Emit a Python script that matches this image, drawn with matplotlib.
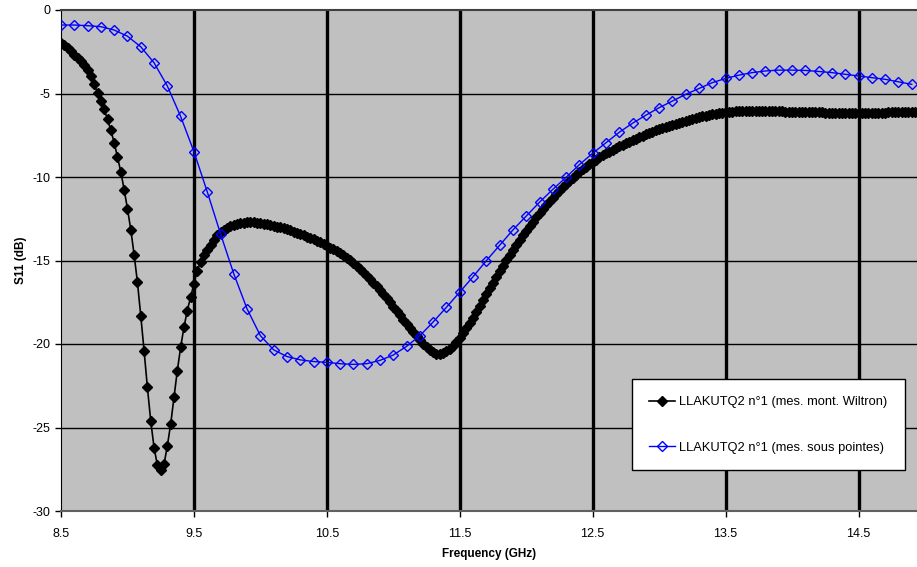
import numpy as np
import matplotlib
matplotlib.use("Agg")
import matplotlib.pyplot as plt

plt.rcParams['font.family'] = ['Liberation Sans', 'DejaVu Sans']

# mesure montage Wiltron, pas de 0.025 GHz a partir de 8.5 GHz
wiltron_start = 8.5
wiltron_step = 0.025
wiltron_s11 = [
    -1.96, -2.12, -2.30, -2.48, -2.68, -2.88, -3.08, -3.30,   # 8.5
    -3.60, -3.98, -4.45, -4.97, -5.45, -5.95, -6.55, -7.20,   # 8.7
    -7.95, -8.80, -9.70, -10.75, -11.90, -13.15, -14.65, -16.30,  # 8.9
    -18.30, -20.40, -22.60, -24.60, -26.20, -27.25, -27.55, -27.20,  # 9.1
    -26.10, -24.80, -23.20, -21.60, -20.20, -19.00, -18.00, -17.20,  # 9.3
    -16.40, -15.60, -15.10, -14.70, -14.40, -14.10, -13.80, -13.50,  # 9.5
    -13.30, -13.15, -13.03, -12.94, -12.86, -12.80, -12.76, -12.73,  # 9.7
    -12.72, -12.71, -12.72, -12.73, -12.76, -12.79, -12.83, -12.87,  # 9.9
    -12.92, -12.97, -13.02, -13.08, -13.14, -13.20, -13.27, -13.34,  # 10.1
    -13.41, -13.49, -13.57, -13.65, -13.74, -13.83, -13.92, -14.02,  # 10.3
    -14.12, -14.23, -14.34, -14.45, -14.57, -14.70, -14.84, -14.99,  # 10.5
    -15.15, -15.32, -15.50, -15.70, -15.90, -16.10, -16.32, -16.54,  # 10.7
    -16.77, -17.00, -17.24, -17.50, -17.76, -18.02, -18.28, -18.54,  # 10.9
    -18.80, -19.05, -19.30, -19.55, -19.78, -20.00, -20.20, -20.37,  # 11.1
    -20.50, -20.57, -20.58, -20.54, -20.44, -20.30, -20.12, -19.90,  # 11.3
    -19.65, -19.37, -19.07, -18.75, -18.42, -18.08, -17.73, -17.38,  # 11.5
    -17.02, -16.67, -16.32, -15.97, -15.63, -15.30, -14.98, -14.67,  # 11.7
    -14.37, -14.07, -13.78, -13.50, -13.22, -12.95, -12.68, -12.42,  # 11.9
    -12.17, -11.93, -11.70, -11.47, -11.25, -11.03, -10.82, -10.61,  # 12.1
    -10.40, -10.22, -10.04, -9.86, -9.69, -9.53, -9.38, -9.23,  # 12.3
    -9.09, -8.96, -8.83, -8.71, -8.59, -8.48, -8.37, -8.27,  # 12.5
    -8.17, -8.07, -7.97, -7.88, -7.79, -7.70, -7.61, -7.53,  # 12.7
    -7.45, -7.37, -7.29, -7.21, -7.13, -7.06, -6.99, -6.92,  # 12.9
    -6.86, -6.80, -6.74, -6.68, -6.62, -6.57, -6.52, -6.47,  # 13.1
    -6.42, -6.37, -6.33, -6.29, -6.25, -6.22, -6.19, -6.16,  # 13.3
    -6.13, -6.11, -6.09, -6.07, -6.06, -6.05, -6.04, -6.03,  # 13.5
    -6.03, -6.03, -6.03, -6.03, -6.04, -6.05, -6.05, -6.06,  # 13.7
    -6.07, -6.07, -6.08, -6.08, -6.09, -6.09, -6.10, -6.10,  # 13.9
    -6.11, -6.11, -6.12, -6.12, -6.13, -6.13, -6.14, -6.14,  # 14.1
    -6.15, -6.15, -6.15, -6.16, -6.16, -6.16, -6.16, -6.16,  # 14.3
    -6.16, -6.16, -6.16, -6.16, -6.15, -6.15, -6.15, -6.14,  # 14.5
    -6.14, -6.13, -6.13, -6.12, -6.12, -6.11, -6.11, -6.10,  # 14.7
    -6.10, -6.09,  # 14.9
]

# mesure sous pointes, pas de 0.1 GHz
pointes_start = 8.5
pointes_step = 0.1
pointes_s11 = [
    -0.90, -0.90, -0.94, -1.00, -1.20, -1.57, -2.20, -3.16, -4.55, -6.37,   # 8.5
    -8.48, -10.88, -13.40, -15.80, -17.90, -19.50, -20.35, -20.75, -20.95, -21.05,  # 9.5
    -21.10, -21.18, -21.22, -21.18, -20.98, -20.66, -20.14, -19.50, -18.68, -17.80,  # 10.5
    -16.89, -15.97, -15.01, -14.09, -13.17, -12.34, -11.51, -10.74, -10.02, -9.26,  # 11.5
    -8.58, -7.95, -7.32, -6.78, -6.30, -5.85, -5.45, -5.05, -4.70, -4.35,   # 12.5
    -4.10, -3.90, -3.75, -3.65, -3.60, -3.60, -3.62, -3.68, -3.75, -3.85,   # 13.5
    -3.95, -4.05, -4.15, -4.30, -4.45,   # 14.5
]

labels = ["LLAKUTQ2 n°1 (mes. mont. Wiltron)", "LLAKUTQ2 n°1 (mes. sous pointes)"]
xticks = [8.5, 9.5, 10.5, 11.5, 12.5, 13.5, 14.5]
yticks = [0, -5, -10, -15, -20, -25, -30]

f_w = wiltron_start + wiltron_step * np.arange(len(wiltron_s11))
f_p = pointes_start + pointes_step * np.arange(len(pointes_s11))

fig = plt.figure(figsize=(9.17, 5.67), dpi=100)
ax = fig.add_axes([61 / 917, 1 - 511 / 567, 856 / 917, 501 / 567])
ax.set_facecolor('#C0C0C0')

# grille : verticales epaisses, horizontales fines
for x in xticks[1:]:
    ax.axvline(x, color='black', lw=2.4, zorder=1)
for y in yticks[1:-1]:
    ax.axhline(y, color='black', lw=1.0, zorder=1)

ax.plot(f_w, wiltron_s11, color='black', lw=1.2, marker='D', ms=4.8,
        mfc='black', mec='black', label=labels[0], zorder=3)
ax.plot(f_p, pointes_s11, color='#0000FF', lw=1.0, marker='D', ms=5,
        mfc='none', mec='#0000FF', mew=1.0, label=labels[1], zorder=4)

ax.set_xlim(8.5, 14.94)
ax.set_ylim(-30, 0)
ax.set_xticks(xticks)
ax.set_xticklabels([str(x) for x in xticks])
ax.set_yticks(yticks)
ax.set_yticklabels([str(y) for y in yticks])
ax.tick_params(axis='both', direction='out', length=4, width=1, labelsize=9, colors='black')
ax.tick_params(axis='x', pad=8)

ax.spines['right'].set_visible(False)
ax.spines['top'].set_color('#404040')
ax.spines['top'].set_linewidth(1.5)
ax.spines['bottom'].set_color('#606060')
ax.spines['bottom'].set_linewidth(1.5)
ax.spines['left'].set_color('black')

ax.set_xlabel("Frequency (GHz)", fontsize=8.5, fontweight='bold', labelpad=6)
ax.set_ylabel("S11 (dB)", fontsize=8.5, fontweight='bold', labelpad=4)

leg = ax.legend(loc='center', bbox_to_anchor=(0.667, 0.084, 0.319, 0.176),
                mode='expand', fontsize=9.3, frameon=True, fancybox=False,
                framealpha=1, edgecolor='black', labelspacing=2.6,
                handlelength=2.0, borderpad=1.3, handletextpad=0.35,
                borderaxespad=0)
leg.get_frame().set_linewidth(1.0)
leg.set_zorder(5)

fig.savefig("out.png", dpi=100)
